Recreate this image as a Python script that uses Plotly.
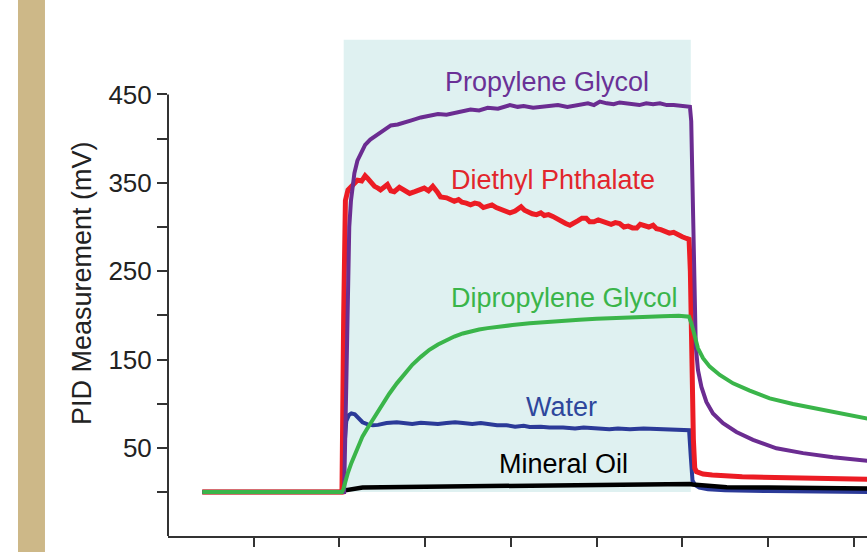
import plotly.graph_objects as go

# ---------------- data ----------------
# exposure window (shaded region), x units = axis tick units
exposure_start = 20.5
exposure_end = 61.0
exposure_top = 512

pg_x = [4.0, 20.4, 20.55, 20.8, 21.0, 21.15, 21.35, 21.75, 22.1, 22.5, 23.0, 23.6, 24.2, 24.8, 25.4, 26.0,
        26.8, 27.6, 28.5, 29.5, 30.5, 31.5, 32.5, 33.4, 34.4, 35.3, 36.3, 37.3, 38.5, 39.9, 40.8, 41.5,
        42.6, 43.7, 44.6, 45.5, 46.6, 47.7, 48.4, 49.0, 49.7, 50.4, 51.2, 52.0, 52.7, 53.5, 54.2, 55.0,
        55.8, 56.6, 57.4, 58.2, 59.0, 59.8, 60.5, 60.9, 61.05, 61.2, 61.4, 61.58, 61.84, 62.24, 62.82,
        63.59, 64.76, 66.32, 68.26, 70.99, 74.1, 77.6, 81.6]
pg_y = [0, 0, 0, 120, 230, 300, 330, 361, 375, 384, 393, 399, 403, 406, 410, 415,
        416, 418, 421, 424, 426, 428, 427, 429, 431, 433, 432, 435, 434, 438, 436, 437,
        435, 436, 437, 438, 436, 438, 439, 440, 438, 442, 440, 439, 441, 440, 438, 438,
        440, 439, 440, 438, 438, 437, 436, 436, 420, 330, 230, 165, 138, 119, 102,
        89, 78, 68, 59, 49.5, 44, 39.3, 35.3]

dp_x = [4.0, 20.3, 20.5, 20.7, 21.0, 21.5, 22.1, 22.6, 23.0, 23.3, 23.7, 24.1, 24.5, 24.8, 25.2, 25.6,
        26.0, 26.4, 27.0, 27.6, 28.2, 28.8, 29.4, 29.9, 30.4, 30.9, 31.4, 31.8, 32.5, 33.0, 33.4, 33.9,
        34.3, 34.8, 35.3, 35.8, 36.3, 36.8, 37.3, 37.8, 38.3, 38.8, 39.3, 39.9, 40.5, 41.2, 41.6, 42.0,
        42.5, 43.0, 43.5, 43.9, 44.4, 44.9, 45.4, 45.9, 46.4, 46.9, 47.3, 47.8, 48.3, 48.8, 49.2, 49.7,
        50.2, 50.7, 51.2, 51.7, 52.2, 52.7, 53.2, 53.7, 54.2, 54.7, 55.1, 55.6, 56.1, 56.6, 57.0, 57.5,
        58.0, 58.5, 59.0, 59.5, 60.0, 60.5, 60.8, 60.95, 61.1, 61.3, 61.46, 61.66, 62.43, 63.5, 67.0,
        72.9, 81.6]
dp_y = [0, 0, 200, 330, 342, 348, 353, 352, 358, 355, 350, 346, 344, 342, 345, 348,
        341, 340, 345, 342, 338, 340, 343, 344, 341, 346, 340, 334, 333, 330, 329, 331,
        328, 327, 325, 327, 326, 322, 323, 325, 322, 320, 319, 316, 318, 323, 319, 317,
        315, 314, 316, 313, 314, 312, 309, 307, 304, 302, 305, 307, 310, 310, 306, 306,
        308, 306, 305, 303, 305, 304, 300, 301, 299, 299, 303, 302, 300, 302, 298, 297,
        295, 293, 294, 291, 289, 287, 286, 250, 150, 60, 27, 23, 20.4, 19.2, 17.3,
        16.2, 14.4]

dg_x = [4.0, 20.3, 20.45, 20.7, 21.0, 21.4, 21.8, 22.3, 22.7, 23.2, 23.7, 24.3, 25.0, 25.8, 26.7, 27.6,
        28.5, 29.5, 30.5, 31.5, 32.5, 33.4, 34.4, 35.4, 36.3, 37.3, 38.3, 40.2, 42.2, 44.1, 46.1, 48.0,
        50.0, 51.9, 53.9, 55.8, 57.7, 59.6, 60.79, 61.07, 61.46, 61.84, 62.43, 63.21, 64.38, 65.93,
        67.88, 70.21, 72.93, 76.04, 79.16, 81.6]
dg_y = [0, 0, 3, 13, 22, 33, 43, 54, 63, 71, 79, 89, 99, 111, 123, 134,
        144, 153, 161, 167, 172, 176, 179.5, 182, 184, 185.5, 187, 189, 191, 192.5, 194, 195,
        196, 197, 198, 198.5, 199, 199.5, 198.5, 191, 174, 162.7, 151.4, 141.9, 132.5, 123,
        114.7, 106, 99.6, 93.6, 88.3, 83.2]

wa_x = [4.0, 20.3, 20.5, 20.8, 21.1, 21.4, 21.8, 22.2, 22.7, 23.3, 23.9, 24.5, 25.5, 26.7, 27.5, 28.5,
        29.5, 30.5, 31.5, 32.5, 33.5, 34.4, 35.5, 36.5, 37.5, 38.4, 39.5, 40.5, 41.5, 42.2, 43.5, 44.5,
        46.1, 47.5, 48.5, 50.0, 51.5, 52.5, 53.9, 55.5, 57.7, 59.0, 59.8, 60.6, 60.8, 61.0, 61.2, 61.5,
        62.0, 63.0, 65.0, 70.0, 75.0, 81.6]
wa_y = [0, 0, 40, 80, 87, 89, 88, 84, 79, 76.5, 75.5, 76, 78, 79, 78, 77,
        78.5, 78, 77, 78, 79, 78, 77, 78, 76.5, 75.5, 75.5, 74, 75, 73.6, 74, 73,
        73, 72, 73, 72, 71, 72, 71, 72, 71, 71.5, 70, 70.5, 70, 40, 13, 8,
        5, 3, 2, 1, 0.5, 0]

mo_x = [4.0, 20.3, 20.5, 21.5, 22.7, 25.0, 30.5, 38.3, 46.0, 57.7, 60.9, 61.2, 65.2, 70.0, 75.0, 81.6]
mo_y = [0, 0, 1.7, 3.5, 5, 5.5, 6, 7, 8.5, 9, 9, 8.5, 5.5, 5, 4.5, 4]

x_ticks = [10, 20, 30, 40, 50, 60, 70, 80]
y_ticks = [0, 50, 100, 150, 200, 250, 300, 350, 400, 450]
y_ticktext = ["", "50", "", "150", "", "250", "", "350", "", "450"]

labels = ["Propylene Glycol", "Diethyl Phthalate", "Dipropylene Glycol", "Water", "Mineral Oil"]
label_x = [44.25, 44.9, 46.25, 45.9, 46.1]
label_y = [464, 353, 220, 96, 32]

# ---------------- styling ----------------
FONT = "Liberation Sans, Arial, Helvetica, sans-serif"
AX = "#333333"
c_pg, c_dp, c_dg, c_wa, c_mo = "#6b2c91", "#ec1c24", "#3ab54a", "#2b3a98", "#000000"
t_pg, t_dp, t_dg, t_wa, t_mo = "#6a3196", "#e2262c", "#3ab54a", "#2e479c", "#000000"

fig = go.Figure()
traces = [
    (wa_x, wa_y, c_wa, 4.0, "Water"),
    (mo_x, mo_y, c_mo, 4.5, "Mineral Oil"),
    (dp_x, dp_y, c_dp, 5.0, "Diethyl Phthalate"),
    (pg_x, pg_y, c_pg, 4.0, "Propylene Glycol"),
    (dg_x, dg_y, c_dg, 4.0, "Dipropylene Glycol"),
]
for xs, ys, col, w, name in traces:
    fig.add_trace(go.Scatter(x=xs, y=ys, mode="lines", name=name,
                             line=dict(color=col, width=w), showlegend=False,
                             hoverinfo="skip"))

# exposure window shading
fig.add_shape(type="rect", xref="x", yref="y", x0=exposure_start, x1=exposure_end,
              y0=0, y1=exposure_top, fillcolor="rgb(223,241,241)", line_width=0, layer="below")
# tan vertical bar at left edge
fig.add_shape(type="rect", xref="paper", yref="paper", x0=-0.2146, x1=-0.176,
              y0=-0.2, y1=1.2, fillcolor="#cdb888", line_width=0, layer="below")
# y axis line (drawn only up to 450)
fig.add_shape(type="line", xref="paper", yref="y", x0=0, x1=0, y0=-49.8, y1=450,
              line=dict(color=AX, width=2))

for txt, lx, ly, col in zip(labels, label_x, label_y, [t_pg, t_dp, t_dg, t_wa, t_mo]):
    fig.add_annotation(x=lx, y=ly, xref="x", yref="y", text=txt, showarrow=False,
                       xanchor="center", yanchor="middle",
                       font=dict(family=FONT, size=27, color=col))

fig.add_annotation(x=-0.123, y=0.5, xref="paper", yref="paper", text="PID Measurement (mV)",
                   textangle=-90, showarrow=False, xanchor="center", yanchor="middle",
                   font=dict(family=FONT, size=27, color="#222222"))

fig.update_layout(
    width=867, height=552,
    margin=dict(l=168, r=0, t=30, b=16, pad=0),
    paper_bgcolor="white", plot_bgcolor="white",
    font=dict(family=FONT, color="#222222"),
    xaxis=dict(range=[0, 81.56], tickvals=x_ticks, showticklabels=False,
               ticks="outside", ticklen=9, tickwidth=2, tickcolor=AX,
               showline=True, linewidth=2, linecolor=AX, showgrid=False, zeroline=False),
    yaxis=dict(range=[-49.8, 523.0], tickvals=y_ticks, ticktext=y_ticktext,
               ticks="outside", ticklen=10, tickwidth=2, tickcolor=AX,
               tickfont=dict(family=FONT, size=26, color="#222222"),
               showline=False, showgrid=False, zeroline=False),
)

fig.write_html("out.html")
